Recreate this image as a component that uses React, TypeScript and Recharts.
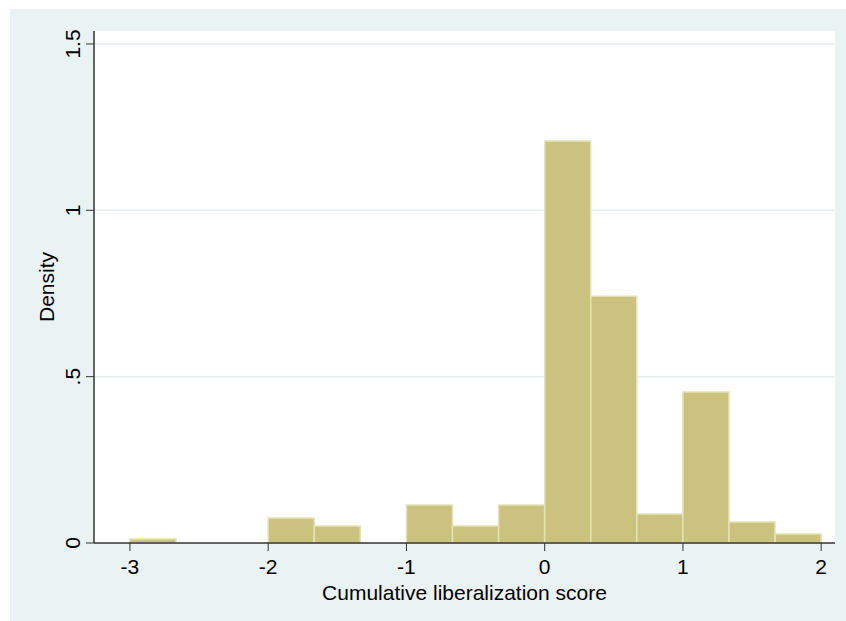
import React from "react";
import {
  ComposedChart,
  Bar,
  XAxis,
  YAxis,
  CartesianGrid,
  Label,
} from "recharts";

// histogram bins (width 1/3) from -3 to 2
const binStarts: number[] = [
  -3, -8 / 3, -7 / 3, -2, -5 / 3, -4 / 3, -1, -2 / 3, -1 / 3, 0, 1 / 3, 2 / 3, 1, 4 / 3, 5 / 3,
];
const binWidth = 1 / 3;
const densities: number[] = [
  0.012, 0, 0, 0.075, 0.051, 0, 0.114, 0.051, 0.114, 1.208, 0.742, 0.087, 0.454, 0.063, 0.027,
];

const xTicks: number[] = [-3, -2, -1, 0, 1, 2];
const yTicks: number[] = [0, 0.5, 1, 1.5];
const yTickLabels: string[] = ["0", ".5", "1", "1.5"];

const data = binStarts.map((lo, i) => ({
  mid: lo + binWidth / 2,
  density: densities[i],
}));

const FONT = "'Liberation Sans', Arial, sans-serif";
const FS = 21;

const YTick = (props: any) => {
  const { x, y, payload } = props;
  const idx = yTicks.indexOf(payload.value);
  return (
    <text
      x={0}
      y={0}
      transform={`translate(${x - 4},${y}) rotate(-90)`}
      textAnchor="middle"
      fontSize={FS}
      fontFamily={FONT}
      fill="#000"
    >
      {idx >= 0 ? yTickLabels[idx] : payload.value}
    </text>
  );
};

export default function App() {
  return (
    <div style={{ position: "absolute", left: 0, top: 0, width: 846, height: 621, background: "#fff" }}>
      <div
        style={{
          position: "absolute",
          left: 10,
          top: 9,
          width: 836,
          height: 612,
          background: "#eaf2f3",
        }}
      />
      <div style={{ position: "absolute", left: 0, top: 0 }}>
        <ComposedChart
          width={846}
          height={621}
          data={data}
          margin={{ top: 31, right: 11, left: 0, bottom: 0 }}
          barCategoryGap={0}
          barGap={0}
        >
          <CartesianGrid
            vertical={false}
            fill="#ffffff"
            stroke="#e4eef0"
            strokeWidth={1.5}
            horizontalValues={[0.5, 1, 1.5]}
          />
          <XAxis
            dataKey="mid"
            type="number"
            domain={[-3.26, 2.1]}
            ticks={xTicks}
            interval={0}
            height={78}
            stroke="#333"
            tickSize={8}
            tickLine={{ stroke: "#333" }}
            axisLine={{ stroke: "#333", strokeWidth: 1.5 }}
            tick={{ fill: "#000", fontSize: FS, fontFamily: FONT }}
            tickMargin={8}
          >
            <Label
              value="Cumulative liberalization score"
              position="insideBottom"
              offset={21}
              fill="#000"
              fontSize={FS}
              fontFamily={FONT}
            />
          </XAxis>
          <YAxis
            type="number"
            domain={[0, 1.539]}
            ticks={yTicks}
            interval={0}
            width={94}
            tickSize={8}
            tickLine={{ stroke: "#333" }}
            axisLine={{ stroke: "#333", strokeWidth: 1.5 }}
            tick={<YTick />}
          >
            <Label
              value="Density"
              angle={-90}
              position="insideLeft"
              offset={47}
              fill="#000"
              fontSize={FS}
              fontFamily={FONT}
              style={{ textAnchor: "middle" }}
            />
          </YAxis>
          <Bar
            dataKey="density"
            fill="#cac27e"
            stroke="#e6e2b6"
            strokeWidth={1.5}
            isAnimationActive={false}
          />
        </ComposedChart>
      </div>
    </div>
  );
}
